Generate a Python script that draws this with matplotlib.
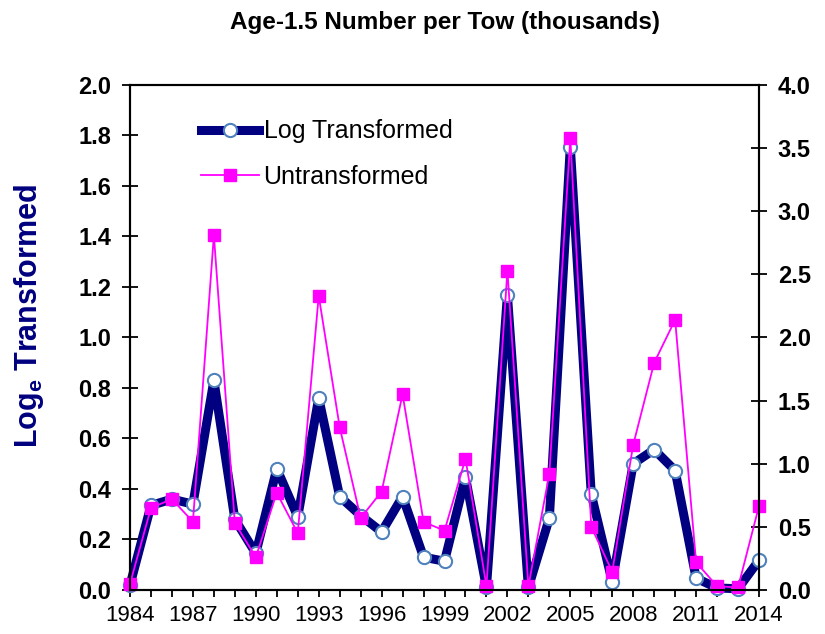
import numpy as np
import matplotlib
matplotlib.use('Agg')
import matplotlib.pyplot as plt
from matplotlib.ticker import MultipleLocator

plt.rcParams['font.family'] = ['Liberation Sans', 'DejaVu Sans']

years = np.arange(1984, 2015)
log_vals = [0.02, 0.335, 0.36, 0.34, 0.83, 0.28, 0.145, 0.48, 0.29, 0.76,
            0.37, 0.295, 0.23, 0.37, 0.13, 0.114, 0.447, 0.01, 1.168, 0.01,
            0.284, 1.755, 0.379, 0.032, 0.50, 0.556, 0.473, 0.047, 0.008, 0.005,
            0.118]
untr_vals = [0.05, 0.65, 0.72, 0.54, 2.81, 0.53, 0.26, 0.77, 0.45, 2.33,
             1.29, 0.57, 0.78, 1.55, 0.54, 0.47, 1.04, 0.03, 2.53, 0.03,
             0.92, 3.58, 0.50, 0.145, 1.15, 1.80, 2.14, 0.22, 0.03, 0.02,
             0.665]
xticks = np.arange(1984, 2015, 3)

fig = plt.figure(figsize=(8.25, 6.34), dpi=100)
ax = fig.add_axes([0.1576, 0.0694, 0.7624, 0.7966])
ax2 = ax.twinx()

l1, = ax.plot(years, log_vals, color='#000080', lw=6.5, marker='o', ms=9.5,
              mfc='white', mec='#4f81bd', mew=1.5, label='Log Transformed', clip_on=False)
l2, = ax2.plot(years, untr_vals, color='#ff00ff', lw=1.3, marker='s', ms=8.5,
               mfc='#ff00ff', mec='#ff00ff', label='Untransformed', clip_on=False)

ax.set_xlim(1984, 2014)
ax.set_ylim(0, 2.0)
ax2.set_ylim(0, 4.0)
ax.set_xticks(xticks)
ax.set_xticklabels([str(y) for y in xticks])
ax.xaxis.set_minor_locator(MultipleLocator(1))
ax.yaxis.set_major_locator(MultipleLocator(0.2))
ax2.yaxis.set_major_locator(MultipleLocator(0.5))
ax.set_yticklabels([f'{v:.1f}' for v in ax.get_yticks()], fontweight='bold', fontsize=17)
ax2.set_yticklabels([f'{v:.1f}' for v in ax2.get_yticks()], fontweight='bold', fontsize=17)
ax.tick_params(axis='x', which='both', direction='out', length=5, width=1.3, labelsize=16, pad=6)
ax.tick_params(axis='y', direction='inout', length=11, width=1.3, pad=8)
ax2.tick_params(axis='y', direction='inout', length=11, width=1.3, pad=8)
for a in (ax, ax2):
    for s in a.spines.values():
        s.set_linewidth(1.5)

ax.set_ylabel(r'Log$_\mathregular{e}$ Transformed', color='#000080', fontsize=22,
              fontweight='bold')
ax.yaxis.set_label_coords(-0.134, 0.543)
ax.set_title('Age-1.5 Number per Tow (thousands)', fontsize=17.5, fontweight='bold', pad=40)

ax2.legend([l1, l2], ['Log Transformed', 'Untransformed'], loc='upper left',
           bbox_to_anchor=(0.113, 0.932), frameon=False, fontsize=18,
           handlelength=2.3, handletextpad=0.2, labelspacing=0.85,
           borderpad=0, borderaxespad=0)

fig.savefig('out.png', dpi=100)
